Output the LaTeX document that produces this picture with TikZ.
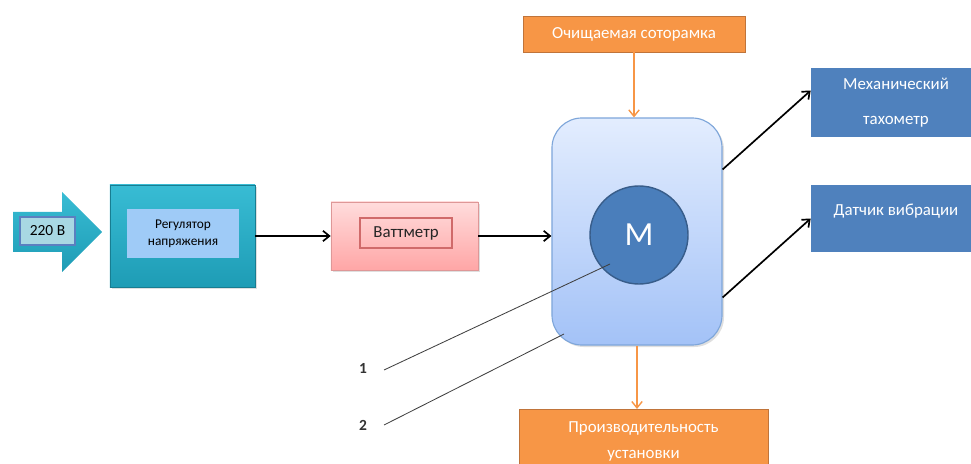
\documentclass[tikz,border=0pt]{standalone}
\usepackage{fontspec}
\setmainfont{Carlito}
\usetikzlibrary{positioning,shadows,arrows.meta}

\definecolor{tealtop}{HTML}{38BCD4}
\definecolor{tealbot}{HTML}{1E9CB5}
\definecolor{paleblue}{HTML}{9FCBF7}
\definecolor{srcbox}{HTML}{A8D8E3}
\definecolor{srcline}{HTML}{5B7FC0}
\definecolor{pinktop}{HTML}{FFDCDC}
\definecolor{pinkbot}{HTML}{FFA6A6}
\definecolor{pinkline}{HTML}{D06A6A}
\definecolor{blocktop}{HTML}{E3EDFE}
\definecolor{blockbot}{HTML}{A3C2F7}
\definecolor{blockline}{HTML}{7EA6DA}
\definecolor{motorfill}{HTML}{4A7EBB}
\definecolor{motorline}{HTML}{385D8A}
\definecolor{orangefill}{HTML}{F79646}
\definecolor{orangeline}{HTML}{C0743A}
\definecolor{bluebox}{HTML}{4F81BD}

\tikzset{
  boxshadow/.style={drop shadow={opacity=0.25,shadow xshift=0.05cm,shadow yshift=-0.05cm}},
  tealbox/.style={rectangle,top color=tealtop,bottom color=tealbot,draw=tealbot!80!black,boxshadow},
  innerbox/.style={rectangle,fill=paleblue,align=center,font=\fontsize{9.5}{12}\selectfont},
  pinkbox/.style={rectangle,top color=pinktop,bottom color=pinkbot,draw=pinkline!70,boxshadow},
  orangebox/.style={rectangle,fill=orangefill,draw=orangeline,text=white,align=center,font=\fontsize{12}{18}\selectfont},
  bluebox/.style={rectangle,fill=bluebox,text=white,align=center,font=\fontsize{12}{25}\selectfont},
  link/.style={-{Straight Barb[length=1.6mm,width=2.6mm]},line width=1.2pt,black},
  feed/.style={-{Straight Barb[length=1.6mm,width=2.6mm]},line width=1pt,orangefill},
  callout/.style={black!75,line width=0.6pt}
}

\begin{document}
\begin{tikzpicture}[x=0.025cm,y=-0.025cm]
  \clip (0,0) rectangle (971,464);
  \useasboundingbox (0,0) rectangle (971,464);

  % input arrow
  \shade[top color=tealtop,bottom color=tealbot]
    (13,212) -- (62,212) -- (62,192) -- (102,232) -- (62,272) -- (62,252) -- (13,252) -- cycle;
  \node[rectangle,fill=srcbox,draw=srcline,line width=0.8pt,minimum width=1.375cm,minimum height=0.7cm,
        font=\fontsize{11}{13}\selectfont] (src) at (47.5,231) {220 В};

  % regulator
  \node[tealbox,minimum width=3.625cm,minimum height=2.55cm] (reg) at (182.5,236) {};
  \node[innerbox,minimum width=2.8cm,minimum height=1.225cm] (regtxt) at (183,233.5) {Регулятор\\напряжения};

  % wattmeter
  \node[pinkbox,minimum width=3.675cm,minimum height=1.7cm] (watt) at (404.5,236) {};
  \node[rectangle,draw=pinkline,line width=1pt,minimum width=2.3cm,minimum height=0.75cm,
        font=\fontsize{12}{14}\selectfont,text=black!85] (watttxt) at (406,233) {Ваттметр};

  % motor block
  \node[rectangle,rounded corners=0.75cm,top color=blocktop,bottom color=blockbot,draw=blockline,
        line width=0.8pt,minimum width=4.25cm,minimum height=5.675cm,boxshadow] (block) at (637,231.5) {};
  \node[circle,fill=motorfill,draw=motorline,line width=1pt,minimum size=2.45cm,text=white,
        font=\fontsize{24}{28}\selectfont] (motor) at (639,235) {M};

  % supply and output
  \node[orangebox,minimum width=5.55cm,minimum height=0.9cm] (frame) at (634,34) {Очищаемая соторамка};
  \node[orangebox,minimum width=6.225cm,minimum height=1.6cm,anchor=north] (prod) at (643.5,409)
    {Производительность\\установки};

  % sensors
  \node[bluebox,minimum width=4.25cm,minimum height=1.725cm] (tacho) at (896,102.5) {Механический\\тахометр};
  \node[bluebox,minimum width=4.25cm,minimum height=1.675cm] (vib) at (896,218.5)
    {\raisebox{0.15cm}[0.2cm][0.05cm]{Датчик вибрации}};

  % callouts
  \node[font=\fontsize{11}{13}\selectfont\bfseries,text=black!80,inner sep=2pt] (n1) at (363,368) {1};
  \node[font=\fontsize{11}{13}\selectfont\bfseries,text=black!80,inner sep=2pt] (n2) at (363,425) {2};
  \coordinate (p1) at (610,264);
  \coordinate (p2) at (564,334);

  \draw[link] (reg.east) -- (watt.west);
  \draw[link] (watt.east) -- (block.west |- watt.east);
  \draw[feed] (frame.south) -- (frame.south |- block.north);
  \draw[feed] (block.south) -- (block.south |- prod.north);
  \draw[link] ([yshift=1.55cm]block.east) -- ([yshift=0.3cm]tacho.west);
  \draw[link] ([yshift=-1.65cm]block.east) -- (vib.west);
  \draw[callout] ([xshift=0.35cm,yshift=-0.05cm]n1.east) -- (p1);
  \draw[callout] ([xshift=0.35cm]n2.east) -- (p2);
\end{tikzpicture}
\end{document}
